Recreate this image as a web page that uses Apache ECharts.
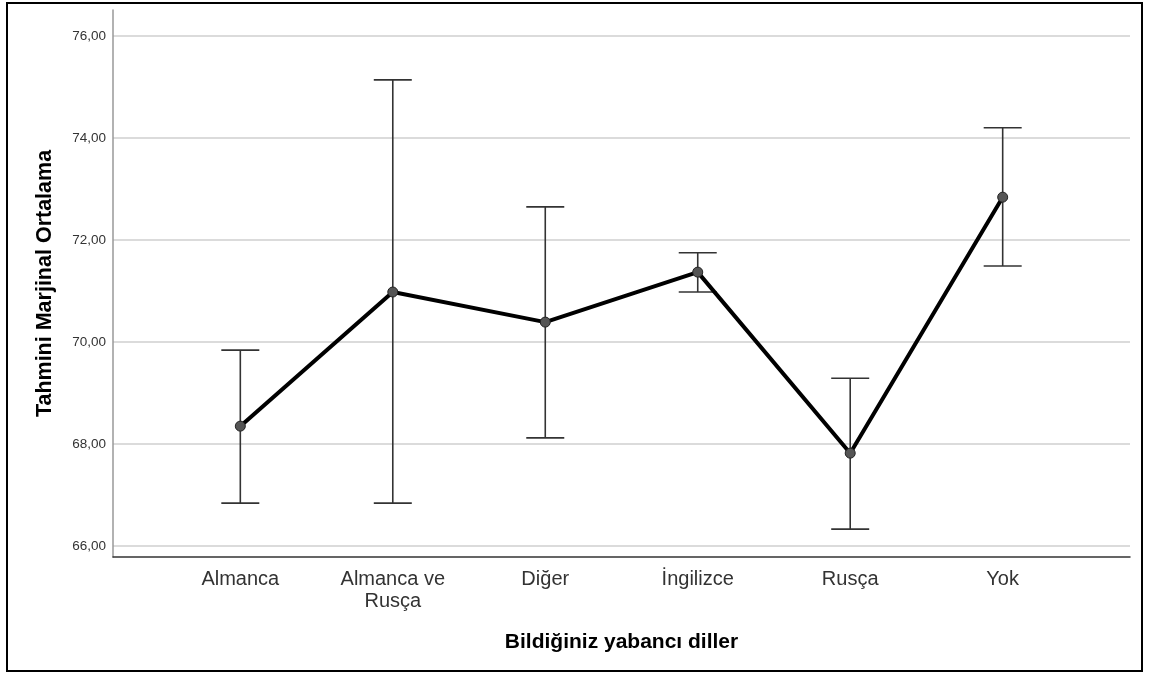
<!DOCTYPE html>
<html>
<head>
<meta charset="utf-8">
<script src="https://cdn.jsdelivr.net/npm/echarts@6/dist/echarts.min.js"></script>
<style>
  html, body { margin: 0; padding: 0; background: #fff; }
  #chart { width: 1150px; height: 677px; }
</style>
</head>
<body>
<div id="chart"></div>
<script>
// kategoriler ve tahmini ortalamalar
const categories = ['Almanca', 'Almanca ve\nRusça', 'Diğer', 'İngilizce', 'Rusça', 'Yok'];
const means = [68.35, 70.98, 70.39, 71.37, 67.82, 72.84];
const upper = [69.84, 75.14, 72.65, 71.75, 69.29, 74.20];
const lower = [66.84, 66.84, 68.12, 70.98, 66.33, 71.49];
const yTicks = [66, 68, 70, 72, 74, 76];

const chart = echarts.init(document.getElementById('chart'));
const font = '"Liberation Sans", Arial, sans-serif';

const idx = categories.map((c, i) => i);
const meanData = means.map((v, i) => [i, v]);
const errData = idx.map(i => [i, lower[i], upper[i]]);

const option = {
  animation: false,
  backgroundColor: '#fff',
  textStyle: { fontFamily: font },
  graphic: [{
    type: 'rect',
    shape: { x: 7, y: 3, width: 1135, height: 668 },
    style: { fill: 'none', stroke: '#000', lineWidth: 2 },
    silent: true
  }],
  grid: {
    left: 113,
    right: 20,
    top: 10,
    bottom: 120,
    containLabel: false
  },
  xAxis: {
    type: 'value',
    min: -0.835,
    max: 5.835,
    name: 'Bildiğiniz yabancı diller',
    nameLocation: 'middle',
    nameGap: 75,
    nameTextStyle: { fontFamily: font, fontSize: 21, fontWeight: 'bold', color: '#000' },
    axisLine: { show: true, onZero: false, lineStyle: { color: '#333', width: 1.5 } },
    axisTick: { show: false, customValues: idx },
    splitLine: { show: false },
    axisLabel: {
      customValues: idx,
      formatter: v => categories[Math.round(v)],
      fontFamily: font,
      fontSize: 20,
      color: '#333',
      lineHeight: 22,
      margin: 11
    }
  },
  yAxis: {
    type: 'value',
    min: 65.784,
    max: 76.51,
    name: 'Tahmini Marjinal Ortalama',
    nameLocation: 'middle',
    nameGap: 57,
    nameTextStyle: { fontFamily: font, fontSize: 21.5, fontWeight: 'bold', color: '#000' },
    axisLine: { show: true, onZero: false, lineStyle: { color: '#999', width: 1.5 } },
    axisTick: { show: false, customValues: yTicks },
    splitLine: { show: true, lineStyle: { color: '#cfcfcf', width: 1.5 } },
    axisLabel: {
      customValues: yTicks,
      formatter: v => v.toFixed(2).replace('.', ','),
      fontFamily: font,
      fontSize: 13.5,
      color: '#333',
      margin: 7
    }
  },
  series: [
    {
      type: 'custom',
      data: errData,
      z: 3,
      renderItem(params, api) {
        const x = api.value(0);
        const lo = api.coord([x, api.value(1)]);
        const hi = api.coord([x, api.value(2)]);
        const half = 19;
        const st = { stroke: '#333', lineWidth: 1.6 };
        return {
          type: 'group',
          children: [
            { type: 'line', shape: { x1: lo[0], y1: lo[1], x2: hi[0], y2: hi[1] }, style: st },
            { type: 'line', shape: { x1: hi[0] - half, y1: hi[1], x2: hi[0] + half, y2: hi[1] }, style: st },
            { type: 'line', shape: { x1: lo[0] - half, y1: lo[1], x2: lo[0] + half, y2: lo[1] }, style: st }
          ]
        };
      }
    },
    {
      type: 'line',
      data: meanData,
      z: 4,
      lineStyle: { color: '#000', width: 4 },
      symbol: 'circle',
      symbolSize: 10,
      itemStyle: { color: '#555', borderColor: '#222', borderWidth: 1 }
    }
  ]
};

chart.setOption(option);
window.addEventListener('resize', function () {
  chart.resize();
});
</script>
</body>
</html>
